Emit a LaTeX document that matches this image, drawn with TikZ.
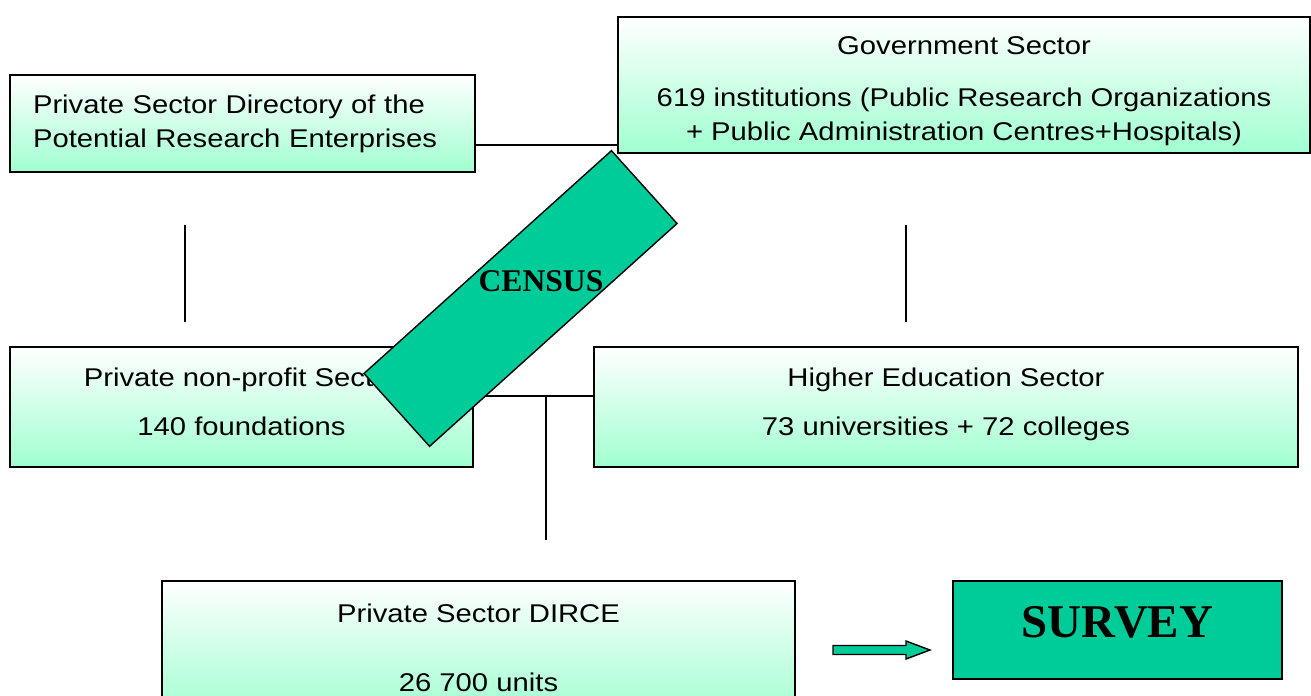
\documentclass[tikz,border=0pt]{standalone}
\usepackage{fontspec}
\newfontfamily\boxfont[FakeStretch=1.14]{Liberation Sans}
\newfontfamily\titlefont{Liberation Serif}
\definecolor{boxgreen}{RGB}{160,255,208}
\definecolor{mint}{RGB}{0,204,153}

\begin{document}
\begin{tikzpicture}[sector/.style={draw, line width=1.3pt, top color=white, bottom color=boxgreen,
  align=center, inner sep=0pt, font=\boxfont\fontsize{14.6}{19.3}\selectfont},
link/.style={line width=0.7pt},
stamp/.style={draw, line width=0.8pt, fill=mint},
bigword/.style={font=\titlefont\bfseries\fontsize{#1}{#1}\selectfont}]
    \clip (0,0) rectangle (26.22,13.9);
    % sector boxes
    \node [sector, minimum width=9.3cm, minimum height=1.94cm, align=left, text width=8.38cm] (dir) at (4.85,11.43)
      {Private Sector Directory of the\\Potential Research Enterprises};
    \node [sector, minimum width=13.84cm, minimum height=2.72cm] (gov) at (19.28,12.2)
      {\rule{0pt}{6mm}Government Sector\\[0.36cm]619 institutions (Public Research Organizations\\+ Public Administration Centres+Hospitals)};
    \node [sector, minimum width=9.26cm, minimum height=2.4cm] (nonprofit) at (4.83,5.76)
      {Private non-profit Sector\\[0.3cm]140 foundations\rule[-2mm]{0pt}{0pt}};
    \node [sector, minimum width=14.08cm, minimum height=2.4cm] (higher) at (18.92,5.76)
      {Higher Education Sector\\[0.3cm]73 universities + 72 colleges\rule[-2.3mm]{0pt}{0pt}};
    \node [sector, minimum width=12.66cm, minimum height=2.68cm] (dirce) at (9.57,0.94)
      {Private Sector DIRCE\\[0.7cm]26 700 units};
    \node [stamp, bigword=26.7pt, minimum width=6.58cm, minimum height=1.96cm, text depth=0.32cm] (survey) at (22.35,1.3) {SURVEY};

    % connecting lines
    \coordinate (dg) at ([yshift=-4.3mm]dir.east);
    \draw [link] (dg) -- (dg -| gov.west);
    \coordinate (leftup) at (3.7,9.4);
    \coordinate (leftdown) at (3.7,7.46);
    \coordinate (rightup) at (18.12,9.4);
    \coordinate (rightdown) at (18.12,7.46);
    \draw [link] (leftup) -- (leftdown);
    \draw [link] (rightup) -- (rightdown);
    \coordinate (nh) at ([yshift=2.2mm]nonprofit.east);
    \draw [link] (nh) -- (nh -| higher.west);
    \coordinate (fork) at (10.92,5.98);
    \coordinate (forkend) at (10.92,3.1);
    \draw [link] (fork) -- (forkend);

    % block arrow towards the survey
    \draw [stamp] (16.66,0.81) -- (18.12,0.81) -- (18.12,0.72) -- (18.6,0.9)
      -- (18.12,1.08) -- (18.12,0.99) -- (16.66,0.99) -- cycle;

    % census band on top
    \node [stamp, rotate=42, minimum width=6.66cm, minimum height=1.96cm] (census) at (10.41,7.93) {};
    \node [bigword=18pt] (censuslabel) at (10.82,8.28) {CENSUS};
\end{tikzpicture}
\end{document}
